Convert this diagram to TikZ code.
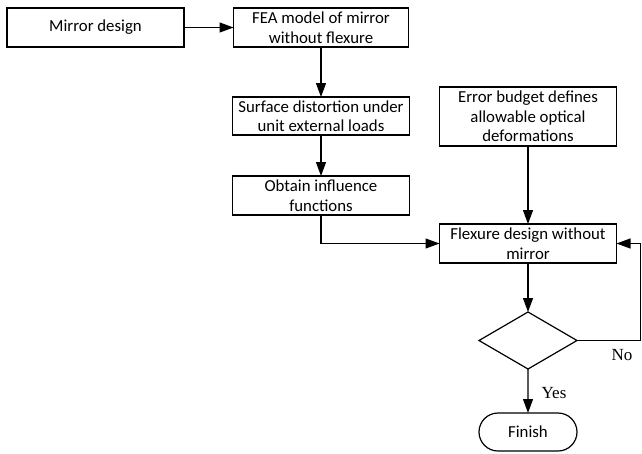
\documentclass[tikz,border=0pt]{standalone}
\usepackage{fontspec}
\setmainfont{Carlito}
\newfontfamily\tnrfont{Liberation Serif}
\usetikzlibrary{arrows.meta,shapes.geometric,shapes.misc}
\begin{document}
\begin{tikzpicture}[x=1pt,y=-1pt,
  every node/.style={inner sep=0pt, outer sep=0pt},
  box/.style={draw, line width=1.2pt, rectangle, minimum width=177pt, minimum height=39pt,
    align=center, font=\fontsize{16.8}{19.5}\selectfont},
  arr/.style={line width=1.2pt, -{Triangle[length=14pt,width=10pt]}},
  lbl/.style={font=\tnrfont\fontsize{17}{19}\selectfont}]
\useasboundingbox (0,0) rectangle (642,453);
\node[box] (mirror) at (95.5,27.5) {Mirror design};
\node[box, minimum width=175pt] (fea) at (321,27.5) {FEA model of mirror\\without flexure};
\node[box, minimum height=38pt] (surf) at (321,116) {Surface distortion under\\unit external loads};
\node[box] (obtain) at (321,195.5) {Obtain influence\\functions};
\node[box, minimum height=59pt] (err) at (528,116.5) {Error budget defines\\allowable optical\\deformations};
\node[box] (flex) at (528,243.5) {Flexure design without\\mirror};
\node[draw, line width=1.2pt, diamond, minimum width=98pt, minimum height=57pt, shape aspect=1.72] (dia) at (528,340.5) {};
\node[draw, line width=1.2pt, rounded rectangle, minimum width=98pt, minimum height=38pt,
  font=\fontsize{16.8}{19.5}\selectfont] (fin) at (528,432) {Finish};
\coordinate (fb) at (640.5,340.5);
\draw[arr] (mirror) -- (fea);
\draw[arr] (fea) -- (surf);
\draw[arr] (surf) -- (obtain);
\draw[arr] (obtain.south) |- (flex.west);
\draw[arr] (err) -- (flex);
\draw[arr] (flex) -- (dia);
\draw[arr] (dia) -- (fin);
\draw[arr] (dia.east) -- (fb) |- (flex.east);
\node[lbl] (no) at (622,355) {No};
\node[lbl] (yes) at (554,393) {Yes};
\end{tikzpicture}
\end{document}
